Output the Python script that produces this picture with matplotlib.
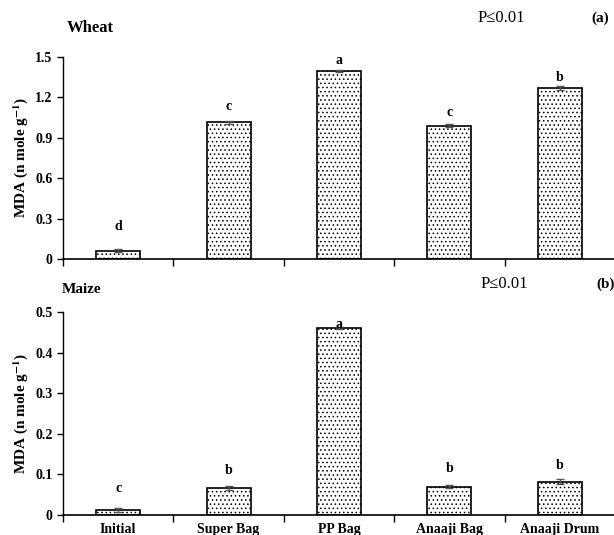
import matplotlib
matplotlib.use("Agg")
import matplotlib.pyplot as plt
import numpy as np

plt.rcParams['font.family'] = ['Liberation Serif', 'DejaVu Serif']
plt.rcParams['mathtext.fontset'] = 'stix'
plt.rcParams['hatch.linewidth'] = 0.6

categories = ["Initial", "Super Bag", "PP Bag", "Anaaji Bag", "Anaaji Drum"]

wheat = [0.06, 1.015, 1.395, 0.99, 1.27]
wheat_err = [0.012, 0.01, 0.01, 0.01, 0.012]
wheat_letters = ["d", "c", "a", "c", "b"]

maize = [0.012, 0.067, 0.461, 0.07, 0.082]
maize_err = [0.004, 0.005, 0.003, 0.004, 0.006]
maize_letters = ["c", "b", "a", "b", "b"]

x = np.arange(len(categories))

fig = plt.figure(figsize=(6.14, 5.35), dpi=100)
ax1 = fig.add_axes([0.1026, 0.516, 0.899, 0.3776])
ax2 = fig.add_axes([0.1026, 0.0374, 0.899, 0.3794])

def draw(ax, vals, errs, letters, ymax, step, offsets):
    ax.bar(x, vals, width=0.4, color='white', edgecolor='black', linewidth=1.2,
           hatch='....', zorder=2)
    ax.errorbar(x, vals, yerr=errs, fmt='none', ecolor='#555555', elinewidth=1,
                capsize=3, zorder=3)
    for xi, v, e, l, off in zip(x, vals, errs, letters, offsets):
        ax.annotate(l, (xi, v + e), xytext=(0, off), textcoords='offset points',
                    ha='center', va='bottom', fontsize=10, fontweight='bold')
    ax.set_xlim(-0.5, 4.45)
    ax.set_ylim(0, ymax)
    ticks = np.arange(0, ymax + step / 2, step)
    ax.set_yticks(ticks)
    ax.set_yticklabels([('0' if t == 0 else f'{t:g}') for t in ticks],
                       fontsize=10, fontweight='bold')
    ax.spines['top'].set_visible(False)
    ax.spines['right'].set_visible(False)
    ax.spines['left'].set_linewidth(1.0)
    ax.spines['bottom'].set_linewidth(1.2)
    ax.set_xticks(x)
    ax.set_xticks(np.arange(-0.5, 4.6, 1.0), minor=True)
    ax.tick_params(axis='x', which='major', length=0, pad=6)
    ax.tick_params(axis='x', which='minor', length=5, width=1, direction='out')
    ax.tick_params(axis='y', length=4, width=1, direction='out')
    ax.set_ylabel('MDA (n mole g$^{\\mathbf{-1}}$)', fontsize=11, fontweight='bold')

draw(ax1, wheat, wheat_err, wheat_letters, 1.5, 0.3, [12, 6, 2, 4, 2])
ax1.set_xticklabels([])
draw(ax2, maize, maize_err, maize_letters, 0.5, 0.1, [10, 6, -3, 7, 5])
ax2.set_xticklabels(categories, fontsize=10, fontweight='bold')

fig.text(0.109, 0.948, 'Wheat', fontsize=12, fontweight='bold', va='center')
fig.text(0.778, 0.966, 'P\u22640.01', fontsize=12, va='center')
fig.text(0.963, 0.966, '(a)', fontsize=11, fontweight='bold', va='center')
fig.text(0.101, 0.458, 'Maize', fontsize=11, fontweight='bold', va='center')
fig.text(0.782, 0.469, 'P\u22640.01', fontsize=12, va='center')
fig.text(0.972, 0.469, '(b)', fontsize=11, fontweight='bold', va='center')

fig.savefig('out.png', dpi=100)
